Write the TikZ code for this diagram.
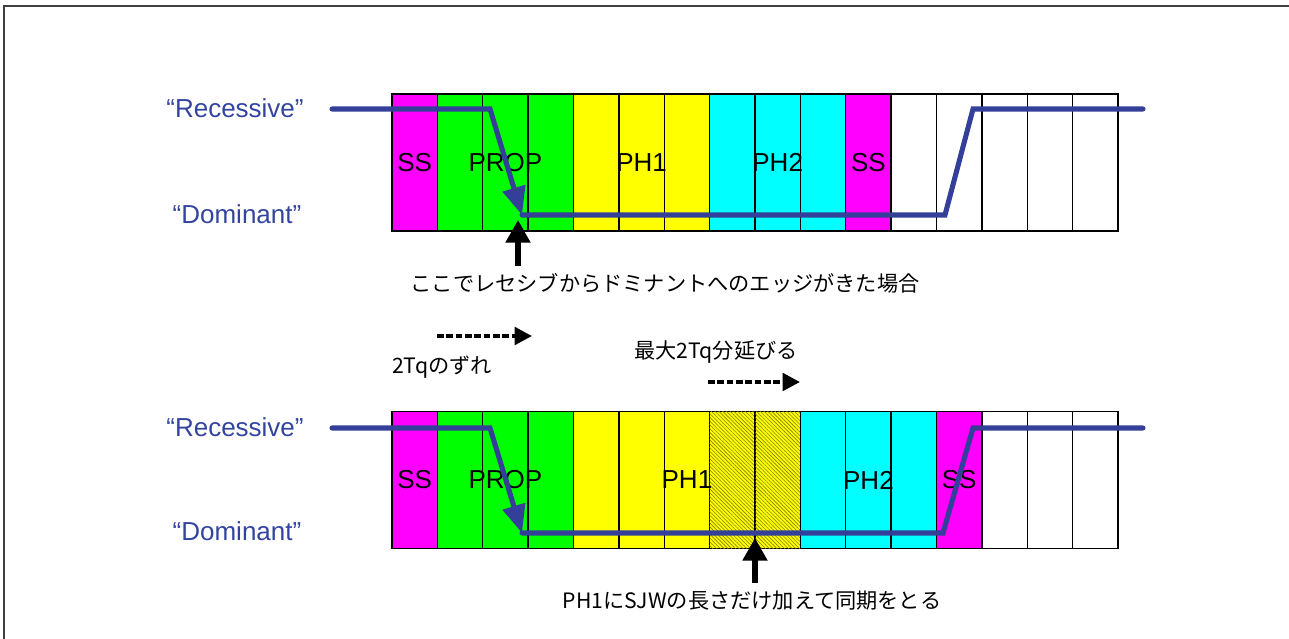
\documentclass[tikz,border=0pt]{standalone}
\usepackage{fontspec}
\setmainfont{Liberation Sans}
\newfontfamily\jpfont{Noto Sans CJK JP}
\usetikzlibrary{positioning,calc,arrows.meta,patterns.meta}
\definecolor{sigblue}{RGB}{51,63,153}
\definecolor{lblblue}{RGB}{51,68,160}
\definecolor{hatchcol}{RGB}{130,130,0}
\definecolor{ssfill}{RGB}{255,0,255}
\definecolor{propfill}{RGB}{0,255,0}
\definecolor{phofill}{RGB}{255,255,0}
\definecolor{phtfill}{RGB}{0,255,255}
\tikzset{
  cell/.style   = {draw=black, line width=1.1pt, minimum width=34.03pt,
                   minimum height=102.75pt, inner sep=0pt, outer sep=0pt},
  ss/.style     = {fill=ssfill},
  prop/.style   = {fill=propfill},
  ph1/.style    = {fill=phofill},
  ph2/.style    = {fill=phtfill},
  sjw/.style    = {fill=phofill, postaction={pattern={Lines[angle=-45,distance=2pt,line width=0.45pt]},
                   pattern color=hatchcol}},
  idle/.style   = {fill=white},
  level/.style  = {font=\fontsize{19.5}{21}\selectfont, text=lblblue},
  seg/.style    = {font=\fontsize{19.5}{21}\selectfont},
  note/.style   = {font=\jpfont\fontsize{15.9}{18}\selectfont},
  signal/.style = {draw=sigblue, line width=3.8pt, line cap=round},
  pointer/.style = {-{Triangle[length=17pt,width=18pt]}, line width=3.8pt},
  lagarrow/.style = {-{Triangle[length=13pt,width=13pt]}, line width=3pt,
                   dash pattern=on 5pt off 2pt}
}

\begin{document}
\begin{tikzpicture}[x=0.75pt,y=-0.75pt]
  \useasboundingbox (0,0) rectangle (1289,639);
  \draw[line width=1.5pt, black!75] (4,639) -- (4,6) -- (1289,6);

  % bit time before resync
  \foreach \s [count=\i] in {ss,prop,prop,prop,ph1,ph1,ph1,ph2,ph2,ph2,ss,idle,idle,idle,idle,idle}
    \node[cell,\s] (top\i) at ({392+(\i-0.5)*45.375},162.5) {};
  % bit time after resync
  \foreach \s [count=\i] in {ss,prop,prop,prop,ph1,ph1,ph1,sjw,sjw,ph2,ph2,ph2,ss,idle,idle,idle}
    \node[cell,\s] (bot\i) at ({392+(\i-0.5)*45.375},480) {};

  \node[seg] (ssA)   at (top1)  {SS};
  \node[seg] (propA) at (top3)  {PROP};
  \node[seg] (phoA)  at (top6)  {PH1};
  \node[seg] (phtA)  at (top9)  {PH2};
  \node[seg] (ssB)   at (top11) {SS};
  \node[seg] (ssC)   at (bot1)  {SS};
  \node[seg] (propB) at (bot3)  {PROP};
  \node[seg] (phoB)  at (bot7)  {PH1};
  \node[seg] (phtB)  at (bot11) {PH2};
  \node[seg] (ssD)   at (bot13) {SS};

  \node[level] (recA) at (235,108) {“Recessive”};
  \node[level] (domA) at (237,214) {“Dominant”};
  \node[level] (recB) at (235,427) {“Recessive”};
  \node[level] (domB) at (237,531) {“Dominant”};

  % waveforms
  \draw[signal, -{Triangle[length=21pt,width=17pt]}] (332,109) -- (490,109) -- (522,215);
  \draw[signal] (522,215) -- (945,215) -- (973,109) -- (1143,109);
  \draw[signal, -{Triangle[length=21pt,width=17pt]}] (332,428) -- (490,428) -- (522,533);
  \draw[signal] (522,533) -- (943,533) -- (973,428) -- (1143,428);

  \node[note] (edge)  at (665,283) {ここでレセシブからドミナントへのエッジがきた場合};
  \node[note] (gap)   at (442,367) {2Tqのずれ};
  \node[note] (grow)  at (716,352) {最大2Tq分延びる};
  \node[note] (sync)  at (752,601) {PH1にSJWの長さだけ加えて同期をとる};

  \coordinate (hitA) at (518,220);
  \coordinate (hitB) at (755,538);
  \draw[pointer] (518,266) -- (hitA);
  \draw[pointer] (755,583) -- (hitB);

  \draw[lagarrow] (437,336) -- (532,336);
  \draw[lagarrow] (708,382) -- (800,382);
\end{tikzpicture}
\end{document}
